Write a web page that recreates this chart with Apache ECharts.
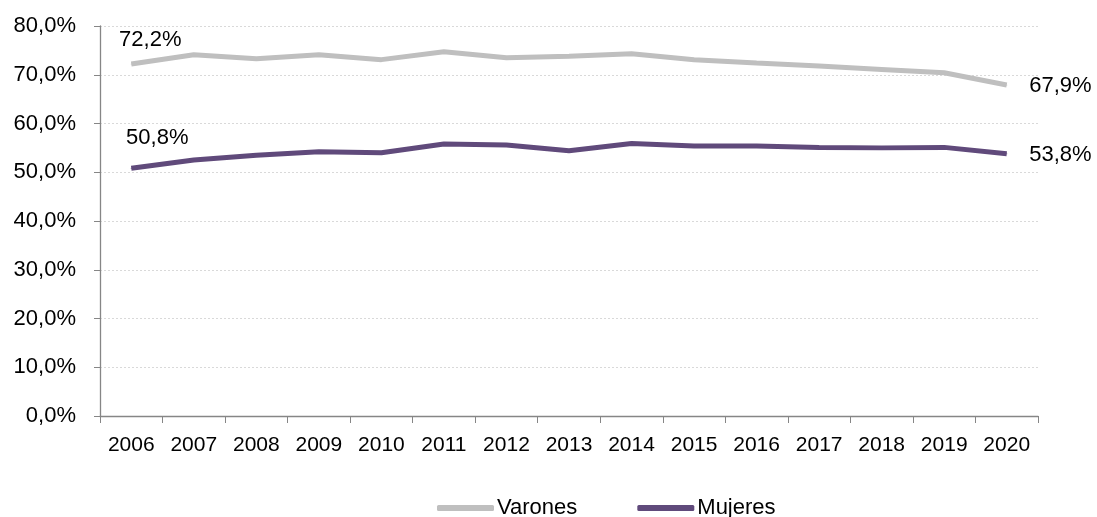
<!DOCTYPE html>
<html><head><meta charset="utf-8">
<script src="https://cdn.jsdelivr.net/npm/echarts@6/dist/echarts.min.js"></script>
<style>html,body{margin:0;padding:0;background:#fff}#c{width:1097px;height:517px}</style>
</head><body><div id="c"></div>
<script>
const years = ['2006','2007','2008','2009','2010','2011','2012','2013','2014','2015','2016','2017','2018','2019','2020'];
const varones = [72.2,74.1,73.3,74.1,73.1,74.7,73.5,73.8,74.3,73.1,72.4,71.8,71.1,70.4,67.9];
const mujeres = [50.8,52.5,53.5,54.2,54.0,55.8,55.6,54.4,55.9,55.4,55.4,55.1,55.0,55.1,53.8];
const yTicks = [0,10,20,30,40,50,60,70,80];

const fmt = v => v.toFixed(1).replace('.', ',') + '%';
const FONT = 'Liberation Sans';
function mkData(arr, firstOff) {
  return arr.map((v, i) => {
    if (i === 0) return {value: v, label: {show: true, position: 'inside', offset: firstOff, formatter: p => fmt(p.value), fontFamily: FONT, fontSize: 22, color: '#000'}};
    if (i === arr.length - 1) return {value: v, label: {show: true, position: 'right', distance: 22, offset: [0, 1], formatter: p => fmt(p.value), fontFamily: FONT, fontSize: 22, color: '#000'}};
    return {value: v, label: {show: false}};
  });
}
const chart = echarts.init(document.getElementById('c'), null, {renderer: 'canvas'});
chart.setOption({
  animation: false,
  grid: {left: 100, right: 59, top: 26, bottom: 101},
  legend: {
    top: 492, left: 432,
    itemWidth: 57, itemHeight: 6, itemGap: 60,
    icon: 'roundRect',
    textStyle: {fontFamily: FONT, fontSize: 22, color: '#000', padding: [0,0,0,-2]},
    data: ['Varones', 'Mujeres']
  },
  xAxis: {
    type: 'category', data: years, boundaryGap: true,
    axisLine: {lineStyle: {color: '#868686', width: 1.3}},
    axisTick: {show: true, length: 7, lineStyle: {color: '#868686'}},
    axisLabel: {fontFamily: FONT, fontSize: 21, color: '#000', margin: 19}
  },
  yAxis: {
    type: 'value', min: 0, max: 80, interval: 10,
    axisLine: {show: true, lineStyle: {color: '#868686', width: 1.3}},
    axisTick: {show: true, length: 6, lineStyle: {color: '#868686'}},
    axisLabel: {fontFamily: FONT, fontSize: 22, color: '#000', margin: 24,
      formatter: v => yTicks.includes(v) ? v.toFixed(1).replace('.', ',') + '%' : ''},
    splitLine: {lineStyle: {color: '#D9D9D9', type: [2, 2], width: 1}}
  },
  series: [
    {name: 'Varones', type: 'line', data: mkData(varones, [19, -24]), symbol: 'circle', symbolSize: 1, showSymbol: true,
     lineStyle: {color: '#BFBFBF', width: 5}, itemStyle: {color: '#BFBFBF'}},
    {name: 'Mujeres', type: 'line', data: mkData(mujeres, [26, -30]), symbol: 'circle', symbolSize: 1, showSymbol: true,
     lineStyle: {color: '#604A7B', width: 5}, itemStyle: {color: '#604A7B'}}
  ]
});
</script></body></html>
